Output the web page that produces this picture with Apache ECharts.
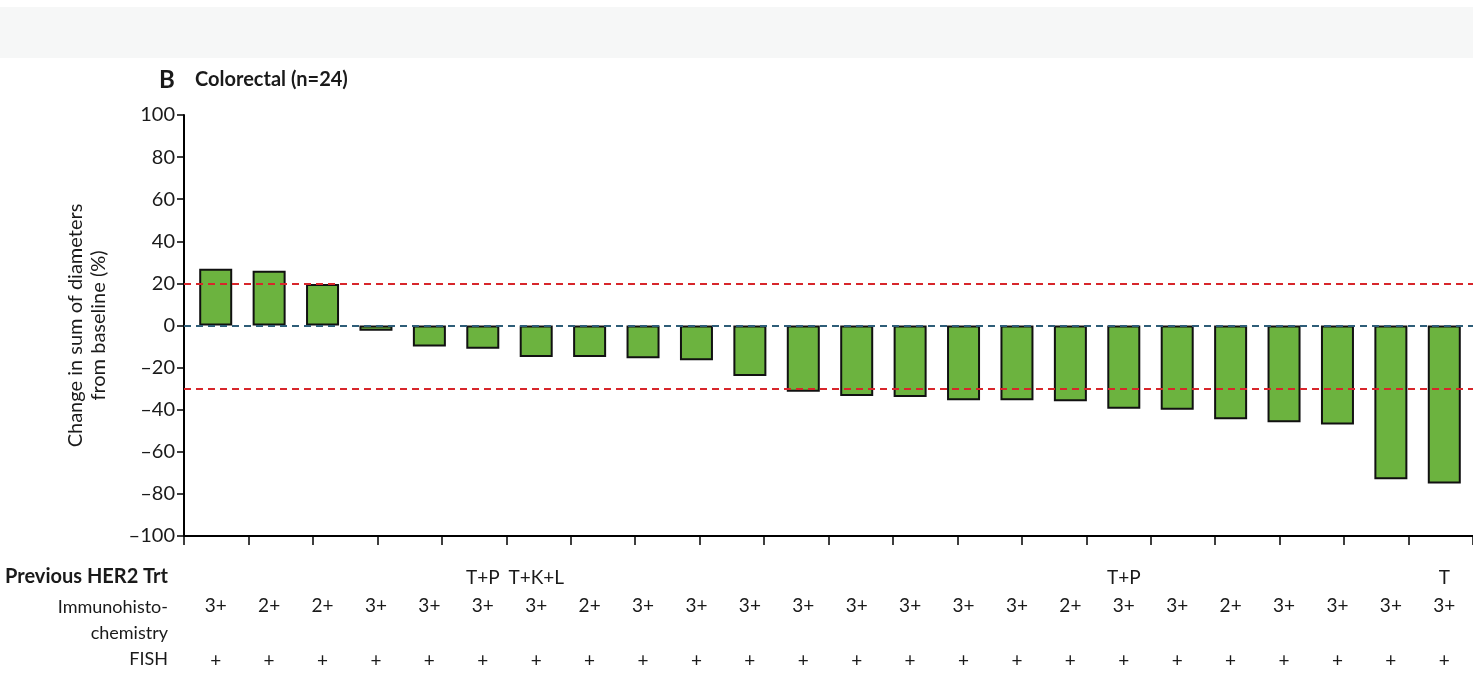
<!DOCTYPE html>
<html>
<head>
<meta charset="utf-8">
<script src="https://cdn.jsdelivr.net/npm/echarts@6/dist/echarts.min.js"></script>
<style>
  html, body { margin: 0; padding: 0; background: #ffffff; }
  #chart { width: 1473px; height: 686px; }
</style>
</head>
<body>
<div id="chart"></div>
<script>
// Colorectal cohort: best change in tumour size per patient
const patients = Array.from({ length: 24 }, (_, i) => 'P' + (i + 1));
const changePct = [27, 26, 19.7, -2.5, -10, -11, -15, -15, -15.5, -16.5, -24, -31.5,
                   -33.5, -34, -35.5, -35.5, -36, -39.5, -40, -44.5, -46, -47, -73, -75];
const priorHer2 = ['', '', '', '', '', 'T+P', 'T+K+L', '', '', '', '', '',
                   '', '', '', '', '', 'T+P', '', '', '', '', '', 'T'];
const ihc = ['3+', '2+', '2+', '3+', '3+', '3+', '3+', '2+', '3+', '3+', '3+', '3+',
             '3+', '3+', '3+', '3+', '2+', '3+', '3+', '2+', '3+', '3+', '3+', '3+'];
const fish = Array.from({ length: 24 }, () => '+');
const yTicks = { min: -100, max: 100, step: 20 };
const refLines = [20, -30];

const FONT = 'Lato, "Open Sans", "Noto Sans", sans-serif';
const TXT = '#1a1a1a';

const chart = echarts.init(document.getElementById('chart'), null, { renderer: 'canvas' });

function rowAxis(labels, offset) {
  return {
    type: 'category', gridIndex: 1, position: 'bottom', offset: offset,
    data: labels,
    axisLine: { show: false }, axisTick: { show: false }, splitLine: { show: false },
    axisLabel: {
      interval: 0, margin: 0, verticalAlign: 'middle',
      fontFamily: FONT, fontSize: 19, color: TXT
    }
  };
}

chart.setOption({
  backgroundColor: '#ffffff',
  animation: false,
  title: {
    left: 154, top: 63,
    text: '{b|B}{t|Colorectal (n=24)}',
    textStyle: {
      rich: {
        b: { fontFamily: FONT, fontWeight: 'bold', fontSize: 24, color: TXT, width: 36 },
        t: { fontFamily: FONT, fontWeight: 'bold', fontSize: 20, color: TXT }
      }
    }
  },
  graphic: [
    { type: 'rect', left: 0, top: 7, shape: { width: 1473, height: 51 }, style: { fill: '#f6f7f7' }, silent: true, z: -10 },
    { type: 'text', right: 1473 - 168, top: 567, style: { text: 'Previous HER2 Trt', fontFamily: FONT, fontWeight: 'bold', fontSize: 20, fill: TXT, textAlign: 'right' } },
    { type: 'text', right: 1473 - 168, top: 594, style: { text: 'Immunohisto-\nchemistry', fontFamily: FONT, fontSize: 18, lineHeight: 26, fill: TXT, textAlign: 'right' } },
    { type: 'text', right: 1473 - 168, top: 650, style: { text: 'FISH', fontFamily: FONT, fontSize: 18, fill: TXT, textAlign: 'right' } }
  ],
  grid: [
    { left: 184, right: 0, top: 115, bottom: 150 },
    { left: 189, right: 2, top: 115, bottom: 150 }
  ],
  yAxis: [
    {
      type: 'value', gridIndex: 0,
      min: yTicks.min, max: yTicks.max, interval: yTicks.step,
      name: 'Change in sum of diameters\nfrom baseline (%)',
      nameLocation: 'middle', nameGap: 74,
      nameTextStyle: { fontFamily: FONT, fontSize: 20, color: TXT, lineHeight: 23 },
      axisLine: { show: true, lineStyle: { color: '#000', width: 2 } },
      axisTick: { show: true, length: 7, lineStyle: { color: '#000', width: 1.5 } },
      splitLine: { show: false },
      axisLabel: {
        margin: 9, fontFamily: FONT, fontSize: 20, color: TXT,
        formatter: v => String(v).replace('-', '\u2013')
      }
    },
    {
      type: 'value', gridIndex: 1,
      min: yTicks.min, max: yTicks.max, interval: yTicks.step,
      show: false
    }
  ],
  xAxis: [
    {
      // baseline axis with its own evenly spaced tick marks
      type: 'value', gridIndex: 0, min: 0, max: 20, interval: 1,
      position: 'bottom',
      axisLine: { show: true, onZero: false, lineStyle: { color: '#000', width: 2 } },
      axisTick: { show: true, length: 9, lineStyle: { color: '#000', width: 1.5 } },
      axisLabel: { show: false },
      splitLine: { show: false }
    },
    {
      type: 'category', gridIndex: 1, data: patients,
      axisLine: { show: false }, axisTick: { show: false }, axisLabel: { show: false }
    },
    rowAxis(priorHer2, 42),
    rowAxis(ihc, 70),
    rowAxis(fish, 125)
  ],
  series: [
    {
      type: 'line', xAxisIndex: 0, yAxisIndex: 0, data: [],
      silent: true,
      markLine: {
        silent: true, symbol: 'none', label: { show: false },
        data: [
          ...refLines.map(v => ({ yAxis: v, lineStyle: { color: '#d7262b', type: [7, 5], width: 1.8 } })),
          { yAxis: 0, lineStyle: { color: '#2e5d78', type: [7, 5], width: 1.8 } }
        ]
      }
    },
    {
      type: 'bar', xAxisIndex: 1, yAxisIndex: 1,
      data: changePct,
      barWidth: 33,
      z: 3,
      itemStyle: { color: '#6cb33f', borderColor: '#111', borderWidth: 2 }
    }
  ]
});
</script>
</body>
</html>
